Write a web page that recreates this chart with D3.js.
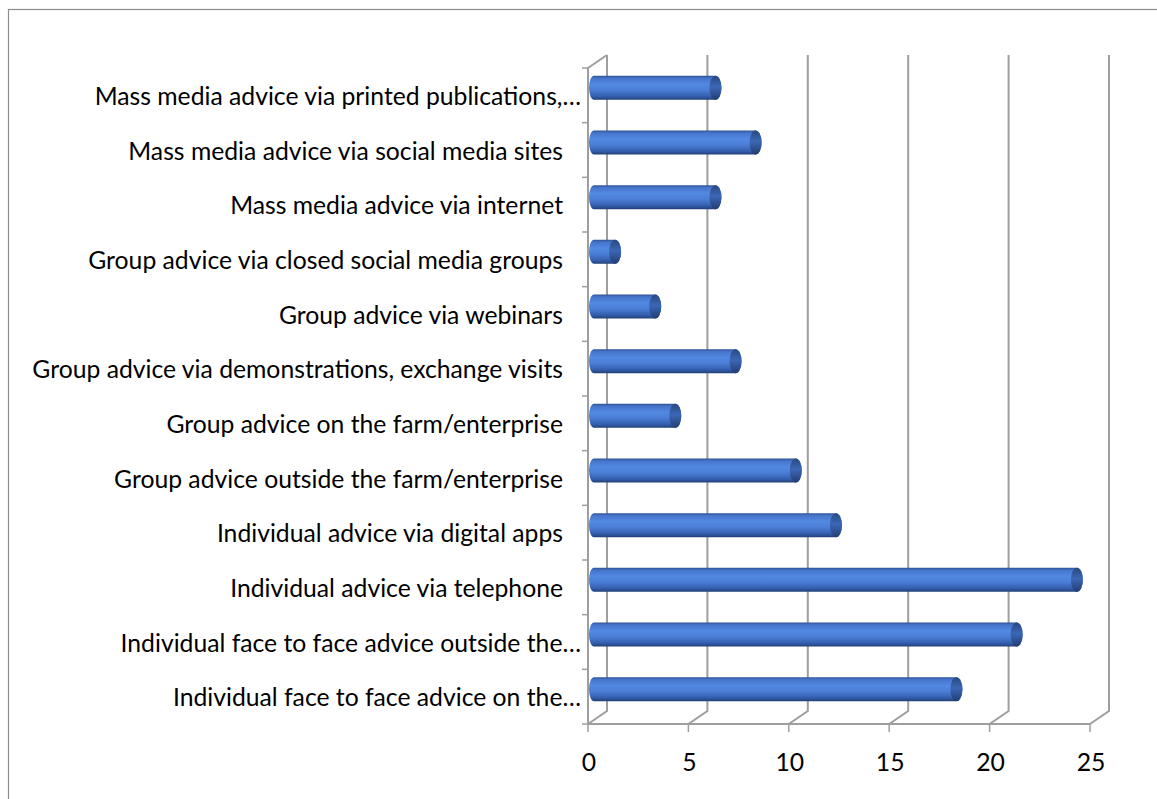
<!DOCTYPE html>
<html><head><meta charset="utf-8">
<script src="https://d3js.org/d3.v7.min.js"></script>
<style>html,body{margin:0;padding:0;background:#fff;}svg{display:block;}</style>
</head><body>
<script>
const categories = [
  "Mass media advice via printed publications,…",
  "Mass media advice via social media sites",
  "Mass media advice via internet",
  "Group advice via closed social media groups",
  "Group advice via webinars",
  "Group advice via demonstrations, exchange visits",
  "Group advice on the farm/enterprise",
  "Group advice outside the farm/enterprise",
  "Individual advice via digital apps",
  "Individual advice via telephone",
  "Individual face to face advice outside the…",
  "Individual face to face advice on the…"
];
const values = [6, 8, 6, 1, 3, 7, 4, 10, 12, 24, 21, 18];
const tickValues = [0, 5, 10, 15, 20, 25];

const W = 1157, H = 799;
const svg = d3.select("body").append("svg").attr("width", W).attr("height", H);
const FONT = "Lato, 'Open Sans', sans-serif";

// chart border
svg.append("rect").attr("x", 8.5).attr("y", 9.5).attr("width", W + 10).attr("height", H + 10)
  .attr("fill", "none").attr("stroke", "#8c8c8c").attr("stroke-width", 1.2);

const x = d3.scaleLinear().domain([0, 25]).range([588, 1090]);
const y = d3.scaleBand().domain(categories).range([68, 724]).paddingInner(0).paddingOuter(0);
const DX = 19, DY = -13;

const defs = svg.append("defs");
const g1 = defs.append("linearGradient").attr("id", "cyl").attr("x1", 0).attr("y1", 0).attr("x2", 0).attr("y2", 1);
[[0, "#2f5293"], [0.1, "#4674cb"], [0.35, "#5289e2"], [0.6, "#4a7dd6"], [0.85, "#345fae"], [1, "#233f78"]]
  .forEach(([o, c]) => g1.append("stop").attr("offset", o).attr("stop-color", c));
const g2 = defs.append("linearGradient").attr("id", "cap").attr("x1", 0).attr("y1", 0).attr("x2", 0).attr("y2", 1);
[[0, "#29497f"], [0.45, "#3c67b6"], [1, "#223d72"]]
  .forEach(([o, c]) => g2.append("stop").attr("offset", o).attr("stop-color", c));

const grid = "#9e9e9e";
// back wall gridlines + floor diagonals
tickValues.forEach(v => {
  const xf = x(v), xb = x(v) + DX;
  svg.append("path").attr("d", `M${xb},${68 + DY} L${xb},${724 + DY} L${xf},724`)
    .attr("fill", "none").attr("stroke", grid).attr("stroke-width", 2);
});
// left front axis + top diagonal
svg.append("path").attr("d", `M${x(0)},724 L${x(0)},68 L${x(0) + DX},${68 + DY}`)
  .attr("fill", "none").attr("stroke", grid).attr("stroke-width", 2);
// category ticks
const bounds = categories.map(c => y(c)).concat([724]);
bounds.forEach(b => svg.append("line").attr("x1", x(0) - 6).attr("x2", x(0)).attr("y1", b).attr("y2", b)
  .attr("stroke", grid).attr("stroke-width", 1.5));
// bottom axis
svg.append("line").attr("x1", x(0)).attr("x2", x(25)).attr("y1", 724).attr("y2", 724)
  .attr("stroke", grid).attr("stroke-width", 2);
tickValues.forEach(v => svg.append("line").attr("x1", x(v)).attr("x2", x(v)).attr("y1", 724).attr("y2", 732)
  .attr("stroke", grid).attr("stroke-width", 1.5));

// bars
const BH = 24, OFFY = -7.5, OFFX = 7, RX = 6;
categories.forEach((c, i) => {
  const cy = y(c) + y.bandwidth() / 2 + OFFY;
  const x0 = x(0) + OFFX - 1, x1 = x(values[i]) + OFFX;
  const top = cy - BH / 2, bot = cy + BH / 2;
  svg.append("path")
    .attr("d", `M${x0},${top} L${x1},${top} A${RX},${BH / 2} 0 0 1 ${x1},${bot} L${x0},${bot} A${RX - 1},${BH / 2} 0 0 1 ${x0},${top} Z`)
    .attr("fill", "url(#cyl)");
  svg.append("ellipse").attr("cx", x1).attr("cy", cy).attr("rx", RX).attr("ry", BH / 2)
    .attr("fill", "url(#cap)");
});

// category labels
const labels = svg.append("g").attr("font-family", FONT).attr("fill", "#000");
const probe = labels.append("text").attr("font-size", 20).text(categories[5]);
const w20 = probe.node().getComputedTextLength();
probe.remove();
const fs = 20 * 531 / w20;
categories.forEach(c => {
  const trunc = c.endsWith("…");
  labels.append("text").attr("x", trunc ? 581 : 563).attr("y", y(c) + y.bandwidth() / 2)
    .attr("text-anchor", "end").attr("dominant-baseline", "central")
    .attr("font-size", fs).text(c);
});
// tick labels
tickValues.forEach(v => labels.append("text").attr("x", x(v) + 1).attr("y", 761)
  .attr("text-anchor", "middle").attr("dominant-baseline", "central").attr("font-size", fs).text(v));
</script>
</body></html>
